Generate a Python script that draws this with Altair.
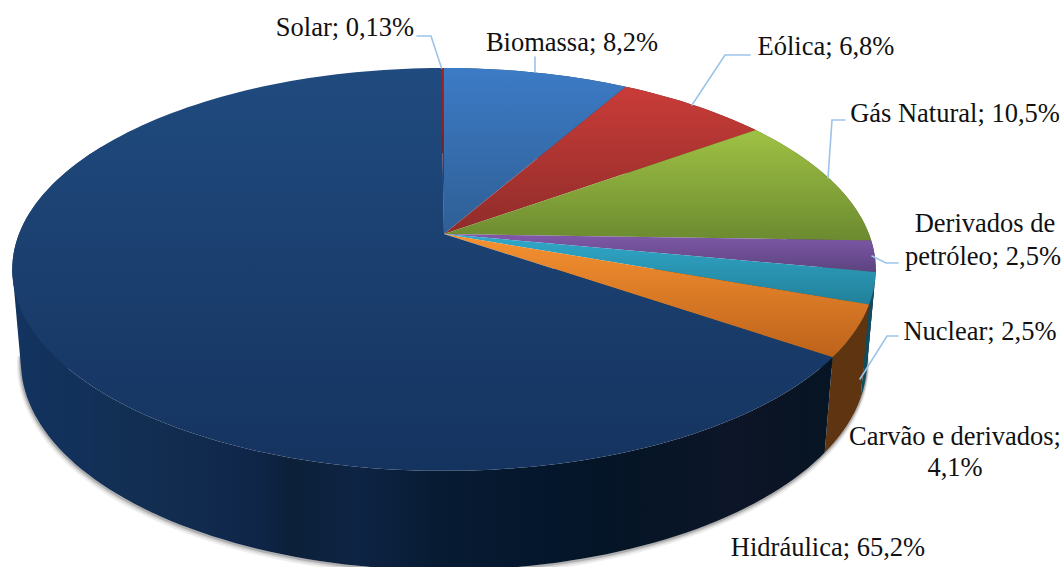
import numpy as np
import pandas as pd
import altair as alt

# Brazilian electricity matrix, clockwise from twelve o'clock
sources = ["Biomassa", "Eólica", "Gás Natural", "Derivados de petróleo", "Nuclear",
           "Carvão e derivados", "Hidráulica", "Solar"]
shares = [8.2, 6.8, 10.5, 2.5, 2.5, 4.1, 65.2, 0.13]

face_top = ["#3c7bc6", "#c93c38", "#9fc244", "#8059a9", "#31a9ca", "#f69231", "#204b7f", "#a02522"]
face_bottom = ["#2f5f95", "#8f2c2a", "#6c8a30", "#5c4380", "#21809a", "#bd621b", "#15335f", "#7d1c1a"]
side_color = ["#24476f", "#6d1f1e", "#4f6623", "#3e2c58", "#0f4c5c", "#5e3510", "#0b2240", "#4d1211"]

# Vertical streaks along the rim of the large slice (bounding-box offset, colour)
rim_stops = [(0.00, "#12345f"), (0.09, "#123059"), (0.12, "#123054"), (0.22, "#112b4e"),
             (0.30, "#0f2548"), (0.34, "#0c2038"), (0.42, "#0e2444"), (0.52, "#071b33"),
             (0.66, "#04162b"), (0.76, "#061526"), (0.88, "#0c1628"), (0.94, "#0a1424"),
             (1.00, "#061525")]

label_lines = [
    ["Biomassa; {}%"], ["Eólica; {}%"], ["Gás Natural; {}%"],
    ["Derivados de", "petróleo; {}%"], ["Nuclear; {}%"],
    ["Carvão e derivados;", "{}%"], ["Hidráulica; {}%"], ["Solar; {}%"],
]
label_x = [[572], [826], [955], [985, 983], [980], [955, 955], [828], [345]]
label_y = [[51], [55], [122], [232, 265], [340], [445, 476], [556], [36]]

# Leader lines, drawn as vertex lists
leaders = [
    [(417, 36), (431, 36), (441.5, 68)],
    [(535, 57), (535, 72)],
    [(750, 55), (725, 55), (692, 105)],
    [(845, 120), (832, 120), (828, 178)],
    [(872, 256), (886, 263), (898, 263)],
    [(860, 379), (887, 336), (898, 336)],
]

W, H = 1064, 567
CX, CY = 444, 234
RX, RY, TILT = 425, 195.2, 0.176      # perspective of the top face
BOTTOM_CY, BOTTOM_RY, BOTTOM_SCALE = 325, 202, 0.98


def top_rim(theta):
    d = 1 + TILT * np.cos(theta)
    return CX + RX * np.sin(theta) / d, CY - RY * np.cos(theta) / d


def bottom_rim(theta):
    d = 1 + TILT * np.cos(theta)
    return CX + BOTTOM_SCALE * RX * np.sin(theta) / d, BOTTOM_CY - BOTTOM_RY * np.cos(theta) / d


def arc(a0, a1):
    return np.linspace(a0, a1, max(3, int((a1 - a0) / np.radians(1.5))))


X = alt.X("x:Q", scale=alt.Scale(domain=[0, W]), axis=None)
Y = alt.Y("y:Q", scale=alt.Scale(domain=[H, 0]), axis=None)


def shape(px, py, **mark):
    df = pd.DataFrame({"x": px, "y": py, "i": np.arange(len(px))})
    return alt.Chart(df).mark_line(clip=True, **mark).encode(x=X, y=Y, order="i:Q")


def vertical(c0, c1):
    return alt.Gradient(gradient="linear", x1=0, y1=0, x2=0, y2=1,
                        stops=[alt.GradientStop(color=c0, offset=0),
                               alt.GradientStop(color=c1, offset=1)])


def tangent_patch(deg_top, deg_bottom, fill):
    # closes the silhouette between the upper and lower rims at the far left and right
    a, b = np.radians(deg_top), np.radians(deg_bottom)
    t0, t1 = top_rim(np.array([a])), bottom_rim(np.array([b]))
    px = [t0[0][0], t1[0][0], CX, CX]
    py = [t0[1][0], t1[1][0], t1[1][0], t0[1][0]]
    return shape(px, py, fill=fill, strokeWidth=0)


total = sum(shares)
edges = np.concatenate([[0], np.cumsum(shares)]) / total * 2 * np.pi
layers = []

# Soft shadow under the visible rim
t = arc(np.radians(95), np.radians(262))
sx, sy = bottom_rim(t)
for grow, width, alpha in [(3.0, 6, 0.10), (2.0, 4, 0.16), (1.0, 2.5, 0.30)]:
    layers.append(shape(sx - grow * 0.3, sy + grow, stroke="#555555", strokeWidth=width, opacity=alpha))

layers.append(tangent_patch(260, 258, rim_stops[0][1]))
layers.append(tangent_patch(100, 102, side_color[4]))

# Side walls first, the faces go on top of them
for i in range(len(shares)):
    t = arc(edges[i], edges[i + 1])
    if sources[i] == "Hidráulica":
        # only the near part of this wall can be seen, so the streaks span just that part
        t = t[t < np.radians(300)]
        fill = alt.Gradient(gradient="linear", x1=0, y1=0, x2=1, y2=0,
                            stops=[alt.GradientStop(color=c, offset=o) for o, c in rim_stops])
    else:
        fill = side_color[i]
    tx, ty = top_rim(t)
    bx, by = bottom_rim(t)
    layers.append(shape(np.concatenate([tx, bx[::-1]]), np.concatenate([ty, by[::-1]]),
                        fill=fill, strokeWidth=0))

# Top faces
for i in range(len(shares)):
    t = arc(edges[i], edges[i + 1])
    tx, ty = top_rim(t)
    layers.append(shape(np.concatenate([[CX], tx]), np.concatenate([[CY], ty]),
                        fill=vertical(face_top[i], face_bottom[i]), strokeWidth=0))

for pts in leaders:
    px, py = zip(*pts)
    layers.append(shape(px, py, stroke="#9dc3e9", strokeWidth=1.6, strokeCap="round"))

# Labels
rows = []
for lines, lx, ly, v in zip(label_lines, label_x, label_y, shares):
    for s, x, y in zip(lines, lx, ly):
        rows.append({"text": s.format(str(v).replace(".", ",")), "x": x, "y": y})
layers.append(
    alt.Chart(pd.DataFrame(rows))
    .mark_text(font="Liberation Serif", fontSize=26.5, color="#111111", align="center", baseline="alphabetic")
    .encode(x=X, y=Y, text="text:N")
)

chart = (
    alt.layer(*layers)
    .properties(width=W, height=H, padding=0, autosize=alt.AutoSizeParams(type="none"),
                background="white")
    .configure_view(stroke=None)
)
chart.save("out.html", embed_options={"renderer": "svg", "actions": False})
